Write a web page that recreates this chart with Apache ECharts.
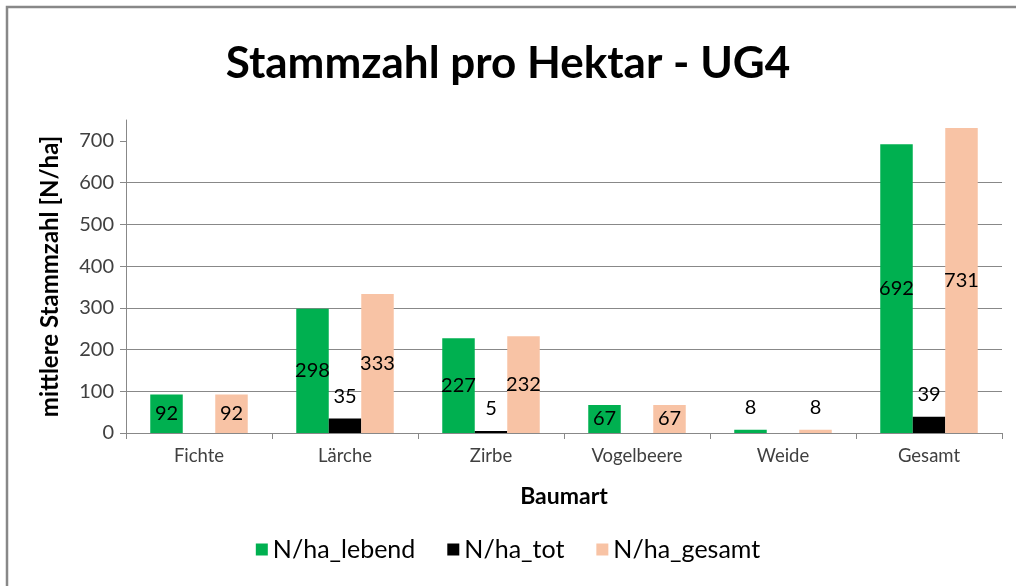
<!DOCTYPE html>
<html>
<head>
<meta charset="utf-8">
<script src="https://cdn.jsdelivr.net/npm/echarts@6/dist/echarts.min.js"></script>
<style>
  html, body { margin: 0; padding: 0; background: #fff; }
  #chart { width: 1016px; height: 586px; }
</style>
</head>
<body>
<div id="chart"></div>
<script>
// Daten
var baumarten = ["Fichte", "Lärche", "Zirbe", "Vogelbeere", "Weide", "Gesamt"];
var lebend = [92, 298, 227, 67, 8, 692];
var tot = [null, 35, 5, null, null, 39];
var gesamt = [92, 333, 232, 67, 8, 731];
var yTicks = [0, 100, 200, 300, 400, 500, 600, 700];

var font = "Lato, 'Open Sans', sans-serif";

// kleine Balken: Beschriftung über dem Balken
function withLabels(values) {
    return values.map(function (v) {
        if (v === null) return null;
        if (v < 50) {
            return { value: v, label: { position: "top", distance: 12 } };
        }
        return v;
    });
}

function barSeries(name, values, color) {
    return {
        name: name,
        type: "bar",
        barWidth: 32.5,
        barGap: "0%",
        itemStyle: { color: color },
        label: {
            show: true,
            position: "inside",
            color: "#000",
            fontFamily: font,
            fontSize: 20
        },
        data: withLabels(values)
    };
}

var myChart = echarts.init(document.getElementById("chart"));
var options = {
    backgroundColor: "#fff",
    animation: false,
    title: {
        text: "Stammzahl pro Hektar - UG4",
        left: "center",
        top: 37,
        textStyle: { fontFamily: font, fontWeight: "bold", fontSize: 44, color: "#000" }
    },
    graphic: [{
        type: "rect",
        shape: { x: 7, y: 7, width: 2000, height: 2000 },
        style: { fill: "none", stroke: "#888", lineWidth: 2.5 }
    }],
    legend: {
        top: 532,
        left: "center",
        itemWidth: 12,
        itemHeight: 12,
        itemGap: 32,
        icon: "rect",
        textStyle: { fontFamily: font, fontSize: 25, color: "#000" },
        data: ["N/ha_lebend", "N/ha_tot", "N/ha_gesamt"]
    },
    grid: { left: 126, right: 14, top: 120, bottom: 153 },
    xAxis: {
        type: "category",
        data: baumarten,
        name: "Baumart",
        nameLocation: "middle",
        nameGap: 52,
        nameTextStyle: { fontFamily: font, fontWeight: "bold", fontSize: 23, color: "#000" },
        axisLine: { lineStyle: { color: "#888" } },
        axisTick: { show: true, length: 6, lineStyle: { color: "#888" } },
        axisLabel: { fontFamily: font, fontSize: 18.5, color: "#404040", margin: 14 }
    },
    yAxis: {
        type: "value",
        min: 0,
        max: 750,
        interval: 100,
        name: "mittlere Stammzahl [N/ha]",
        nameLocation: "middle",
        nameGap: 64,
        nameTextStyle: { fontFamily: font, fontWeight: "bold", fontSize: 24, color: "#000" },
        axisLine: { show: true, lineStyle: { color: "#888" } },
        axisTick: { show: true, length: 6, customValues: yTicks, lineStyle: { color: "#888" } },
        axisLabel: { fontFamily: font, fontSize: 20, color: "#404040", margin: 12, customValues: yTicks },
        splitLine: { show: true, showMaxLine: false, lineStyle: { color: "#888" } }
    },
    series: [
        barSeries("N/ha_lebend", lebend, "#00B050"),
        barSeries("N/ha_tot", tot, "#000000"),
        barSeries("N/ha_gesamt", gesamt, "#F8C3A5")
    ]
};
myChart.setOption(options);
</script>
</body>
</html>
